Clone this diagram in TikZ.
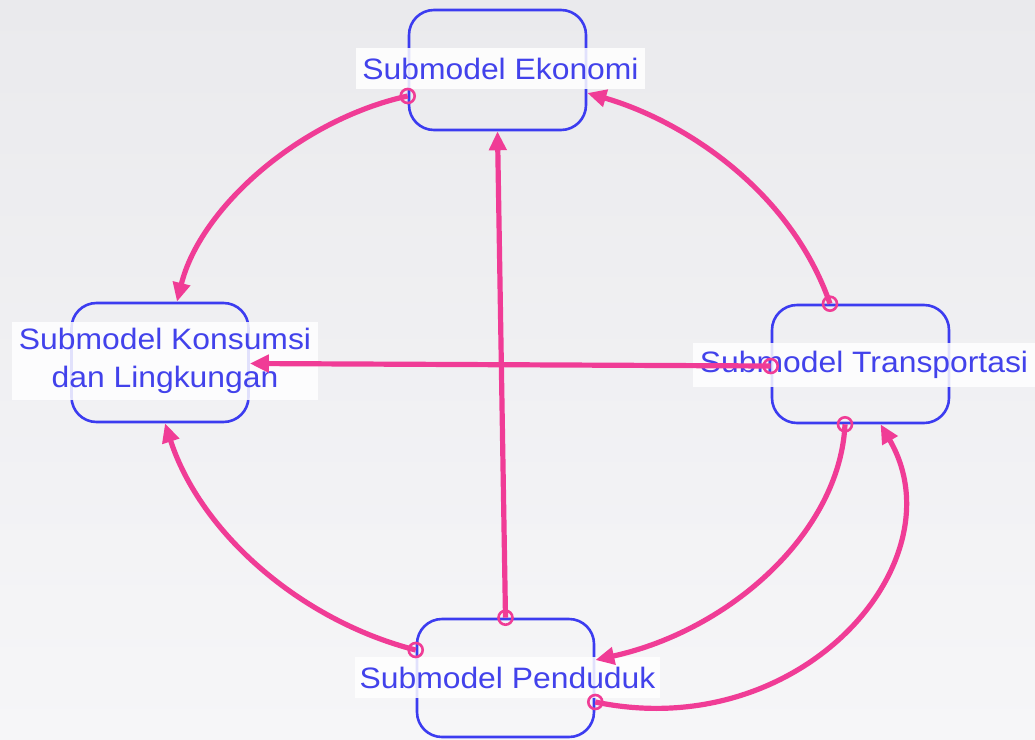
\documentclass[tikz,border=0pt]{standalone}
\usepackage{fontspec}
\setmainfont{Liberation Sans}[FakeStretch=1.08]
\usetikzlibrary{arrows.meta}
\definecolor{bxblue}{RGB}{60,60,240}
\definecolor{txblue}{RGB}{66,66,235}
\definecolor{lnpink}{RGB}{240,60,150}
\definecolor{bgtop}{RGB}{234,234,237}
\definecolor{bgbot}{RGB}{246,246,248}
\begin{document}
\begin{tikzpicture}[x=1pt,y=-1pt,
  box/.style={draw=bxblue, line width=2.6pt, rounded corners=25pt, minimum width=177pt, minimum height=119pt, inner sep=0pt},
  lab/.style={fill=white, fill opacity=0.85, text opacity=1, text=txblue, inner sep=0pt, align=center,
    font=\fontsize{29.5pt}{38pt}\selectfont},
  link/.style={draw=lnpink, line width=5.2pt, -{Triangle[length=19pt,width=17pt]}},
  marker/.style={draw=lnpink, line width=2.6pt, circle, minimum size=14pt, inner sep=0pt}
]
\useasboundingbox (0,0) rectangle (1035,739);
\shade[top color=bgtop, bottom color=bgbot] (0,0) rectangle (1035,739);

% boxes
\node[box, minimum height=120pt] (eko) at (497.5,70) {};
\node[box] (kons) at (160,362.5) {};
\node[box, minimum height=118pt] (trans) at (860.5,364) {};
\node[box, minimum height=118pt] (pend) at (505.5,678) {};

% labels
\node[lab, minimum width=289pt, minimum height=41pt] (ekolab) at (500.5,68.5) {Submodel Ekonomi};
\node[lab, minimum width=306pt, minimum height=78pt] (konslab) at (165,361) {Submodel Konsumsi\\dan Lingkungan};
\node[lab, minimum width=342pt, minimum height=44pt] (translab) at (864,365) {Submodel Transportasi};
\node[lab, minimum width=305pt, minimum height=41pt] (pendlab) at (507.5,677.5) {Submodel Penduduk};

% connection points
\coordinate (s1) at ([yshift=-26pt]eko.west);
\coordinate (e1) at ([xshift=17pt]kons.north);
\coordinate (s2) at ([xshift=-30.5pt]trans.north);
\coordinate (e2) at ([yshift=-23pt]eko.east);
\coordinate (s3) at ([yshift=-2pt]trans.west);
\coordinate (e3) at ([yshift=-1pt]kons.east);
\coordinate (s4) at (pend.north);
\coordinate (e4) at (eko.south);
\coordinate (s5) at ([yshift=28pt]pend.west);
\coordinate (e5) at ([xshift=5pt]kons.south);
\coordinate (s6) at ([xshift=-15.5pt]trans.south);
\coordinate (e6) at ([yshift=18pt]pend.east);
\coordinate (s7) at ([yshift=-24pt]pend.east);
\coordinate (e7) at ([xshift=20pt]trans.south);

% connectors
\draw[link] (s1) .. controls +(-109,24) and +(23,-93) .. (e1);
\draw[link] (s2) .. controls +(-40,-115) and +(94,27) .. (e2);
\draw[link] (s3) -- (e3);
\draw[link] (s4) -- (e4);
\draw[link] (s5) .. controls +(-117,-30) and +(35,108) .. (e5);
\draw[link] (s6) .. controls +(-5,107) and +(136,-30) .. (e6);
\draw[link] (s7) .. controls +(206,43) and +(80,137) .. (e7);

% start markers
\node[marker] (m1) at (s1) {};
\node[marker] (m2) at (s2) {};
\node[marker] (m3) at (s3) {};
\node[marker] (m4) at (s4) {};
\node[marker] (m5) at (s5) {};
\node[marker] (m6) at (s6) {};
\node[marker] (m7) at (s7) {};
\end{tikzpicture}
\end{document}
